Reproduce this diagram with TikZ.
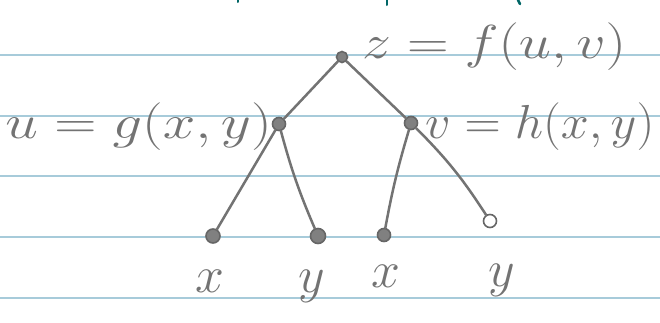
\documentclass[tikz,border=0pt]{standalone}
\newcommand{\bigtxt}[3]{\scalebox{#1}[#2]{\huge #3}}
\begin{document}
\begin{tikzpicture}[x=1pt,y=-1pt,
  pen/.style={draw=black!55,line width=2.5pt,line cap=round},
  ruled/.style={draw=cyan!45!gray!55,line width=1.3pt},
  dot/.style={circle,draw=black!60,fill=black!50,line width=1.6pt,inner sep=0pt,minimum size=#1},
  lab/.style={text=black!55,inner sep=0pt}]
\useasboundingbox (0,0) rectangle (660,322);
\fill[white] (0,0) rectangle (660,322);
% ruled lines
\foreach \yy in {55,116,176,237,298} \draw[ruled] (0,\yy) -- (660,\yy);
% teal remnants at top
\draw[draw=teal!80!black,line width=2pt,line cap=round] (238,0) -- (238,2);
\draw[draw=teal!80!black,line width=2pt,line cap=round] (387,0) -- (387,5);
\draw[draw=teal!80!black,line width=2.5pt,line cap=round] (518,0) -- (520,4);
% nodes
\node[dot=11pt] (r) at (342,57) {};
\node[dot=13pt] (u) at (279,124) {};
\node[dot=13pt] (v) at (411,123) {};
\node[dot=14pt] (x1) at (213,236) {};
\node[dot=15pt] (y1) at (318,236) {};
\node[dot=13pt] (x2) at (384,235) {};
\node[dot=13pt,fill=white] (y2) at (490,221) {};
% connectors
\draw[pen] (r) -- (u);
\draw[pen] (r) -- (v);
\draw[pen] (u) -- (x1);
\draw[pen] (u) to[bend right=4] (y1);
\draw[pen] (v) to[bend right=3] (x2);
\draw[pen] (v) to[bend left=6] (y2);
% labels
\node[lab,anchor=base west] (lz) at (362,58) {\bigtxt{2.78}{2.3}{$z=f(u,v)$}};
\node[lab,anchor=base east] (lu) at (272,138) {\bigtxt{2.82}{2.3}{$u=g(x,y)$}};
\node[lab,anchor=base west] (lv) at (425,138) {\bigtxt{2.42}{2.3}{$v=h(x,y)$}};
\node[lab,anchor=base] (lx1) at (210,292) {\bigtxt{2.5}{2.5}{$x$}};
\node[lab,anchor=base] (ly1) at (312,292) {\bigtxt{2.5}{2.5}{$y$}};
\node[lab,anchor=base] (lx2) at (386,287) {\bigtxt{2.5}{2.5}{$x$}};
\node[lab,anchor=base] (ly2) at (502,286) {\bigtxt{2.5}{2.5}{$y$}};
\end{tikzpicture}
\end{document}
